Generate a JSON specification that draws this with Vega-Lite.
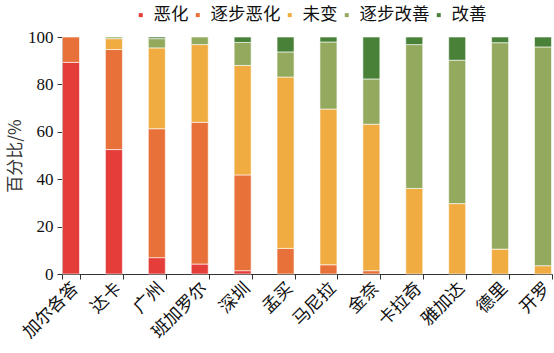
{
  "$schema": "https://vega.github.io/schema/vega-lite/v6.json",
  "width": 490,
  "height": 237,
  "autosize": {"type": "none"},
  "padding": {"left": 62, "top": 37, "right": 2, "bottom": 79},
  "background": "white",
  "data": {
    "values": [
      {"city": "加尔各答", "cat": "恶化", "o": 1, "v": 89.3},
      {"city": "加尔各答", "cat": "逐步恶化", "o": 2, "v": 10.7},
      {"city": "达卡", "cat": "恶化", "o": 1, "v": 52.5},
      {"city": "达卡", "cat": "逐步恶化", "o": 2, "v": 42.2},
      {"city": "达卡", "cat": "未变", "o": 3, "v": 4.6},
      {"city": "达卡", "cat": "逐步改善", "o": 4, "v": 0.7},
      {"city": "广州", "cat": "恶化", "o": 1, "v": 6.9},
      {"city": "广州", "cat": "逐步恶化", "o": 2, "v": 54.4},
      {"city": "广州", "cat": "未变", "o": 3, "v": 34.1},
      {"city": "广州", "cat": "逐步改善", "o": 4, "v": 3.9},
      {"city": "广州", "cat": "改善", "o": 5, "v": 0.7},
      {"city": "班加罗尔", "cat": "恶化", "o": 1, "v": 4.2},
      {"city": "班加罗尔", "cat": "逐步恶化", "o": 2, "v": 59.8},
      {"city": "班加罗尔", "cat": "未变", "o": 3, "v": 32.8},
      {"city": "班加罗尔", "cat": "逐步改善", "o": 4, "v": 3.2},
      {"city": "深圳", "cat": "恶化", "o": 1, "v": 1.4},
      {"city": "深圳", "cat": "逐步恶化", "o": 2, "v": 40.4},
      {"city": "深圳", "cat": "未变", "o": 3, "v": 46.2},
      {"city": "深圳", "cat": "逐步改善", "o": 4, "v": 9.7},
      {"city": "深圳", "cat": "改善", "o": 5, "v": 2.3},
      {"city": "孟买", "cat": "逐步恶化", "o": 2, "v": 10.8},
      {"city": "孟买", "cat": "未变", "o": 3, "v": 72.3},
      {"city": "孟买", "cat": "逐步改善", "o": 4, "v": 10.6},
      {"city": "孟买", "cat": "改善", "o": 5, "v": 6.3},
      {"city": "马尼拉", "cat": "逐步恶化", "o": 2, "v": 3.9},
      {"city": "马尼拉", "cat": "未变", "o": 3, "v": 65.7},
      {"city": "马尼拉", "cat": "逐步改善", "o": 4, "v": 28.3},
      {"city": "马尼拉", "cat": "改善", "o": 5, "v": 2.1},
      {"city": "金奈", "cat": "逐步恶化", "o": 2, "v": 1.4},
      {"city": "金奈", "cat": "未变", "o": 3, "v": 61.8},
      {"city": "金奈", "cat": "逐步改善", "o": 4, "v": 19.1},
      {"city": "金奈", "cat": "改善", "o": 5, "v": 17.7},
      {"city": "卡拉奇", "cat": "未变", "o": 3, "v": 36.1},
      {"city": "卡拉奇", "cat": "逐步改善", "o": 4, "v": 60.7},
      {"city": "卡拉奇", "cat": "改善", "o": 5, "v": 3.2},
      {"city": "雅加达", "cat": "未变", "o": 3, "v": 29.7},
      {"city": "雅加达", "cat": "逐步改善", "o": 4, "v": 60.5},
      {"city": "雅加达", "cat": "改善", "o": 5, "v": 9.8},
      {"city": "德里", "cat": "未变", "o": 3, "v": 10.5},
      {"city": "德里", "cat": "逐步改善", "o": 4, "v": 87.1},
      {"city": "德里", "cat": "改善", "o": 5, "v": 2.4},
      {"city": "开罗", "cat": "未变", "o": 3, "v": 3.5},
      {"city": "开罗", "cat": "逐步改善", "o": 4, "v": 92.3},
      {"city": "开罗", "cat": "改善", "o": 5, "v": 4.2}
    ]
  },
  "mark": {"type": "bar", "stroke": "white", "strokeWidth": 0.6, "width": 17},
  "encoding": {
    "x": {
      "field": "city",
      "type": "nominal",
      "sort": ["加尔各答", "达卡", "广州", "班加罗尔", "深圳", "孟买", "马尼拉", "金奈", "卡拉奇", "雅加达", "德里", "开罗"],
      "scale": {"paddingInner": 0.58, "paddingOuter": 0},
      "axis": {
        "title": null,
        "labelAngle": -45,
        "labelAlign": "right",
        "labelBaseline": "top",
        "labelFont": "Noto Sans CJK SC",
        "labelFontSize": 17.5,
        "labelColor": "#111",
        "tickBand": "extent",
        "domainColor": "#333",
        "tickColor": "#333",
        "tickSize": 5,
        "labelPadding": 0,
        "labelOffset": -2
      }
    },
    "y": {
      "field": "v",
      "type": "quantitative",
      "stack": "zero",
      "scale": {"domain": [0, 100], "nice": false},
      "axis": {
        "title": "百分比/%",
        "titleFont": "Noto Sans CJK SC",
        "titleFontSize": 17,
        "titleFontWeight": "normal",
        "titleColor": "#333",
        "titlePadding": 3,
        "values": [0, 20, 40, 60, 80, 100],
        "grid": false,
        "labelFont": "Liberation Serif",
        "labelFontSize": 17,
        "labelColor": "#111",
        "domainColor": "#333",
        "tickColor": "#333",
        "tickSize": 5,
        "labelPadding": 4
      }
    },
    "color": {
      "field": "cat",
      "type": "nominal",
      "scale": {
        "domain": ["恶化", "逐步恶化", "未变", "逐步改善", "改善"],
        "range": ["#E53E3A", "#E8713A", "#F0AC40", "#93AA5E", "#4A8139"]
      },
      "legend": {
        "title": null,
        "orient": "none",
        "direction": "horizontal",
        "legendX": 70,
        "legendY": -31,
        "symbolType": "square",
        "symbolSize": 16,
        "symbolStrokeWidth": 0,
        "labelFont": "Noto Sans CJK SC",
        "labelFontSize": 17.5,
        "labelColor": "#111",
        "columnPadding": 0,
        "labelOffset": 4
      }
    },
    "order": {"field": "o", "type": "quantitative", "sort": "ascending"}
  },
  "config": {"view": {"stroke": null}}
}
